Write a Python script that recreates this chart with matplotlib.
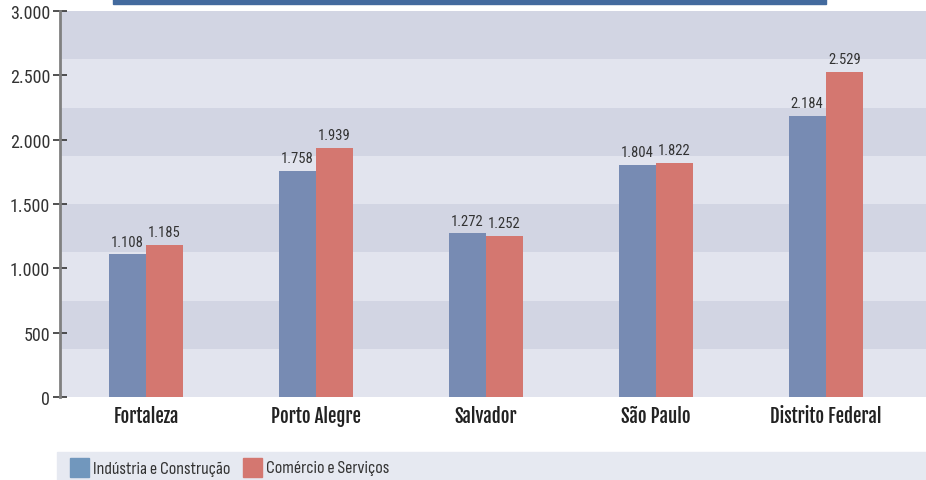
import matplotlib.pyplot as plt
from matplotlib.patches import Rectangle
import numpy as np

cidades = ['Fortaleza', 'Porto Alegre', 'Salvador', 'São Paulo', 'Distrito Federal']
industria = [1108, 1758, 1272, 1804, 2184]
comercio = [1185, 1939, 1252, 1822, 2529]
series_nomes = ['Indústria e Construção', 'Comércio e Serviços']
yticks = [0, 500, 1000, 1500, 2000, 2500, 3000]

plt.rcParams['font.family'] = ['Roboto Condensed', 'DejaVu Sans']
fonte_leg = ['Sofia Sans Condensed', 'Roboto Condensed', 'DejaVu Sans']
fonte_cat = ['Fjalla One', 'Roboto Condensed', 'DejaVu Sans']

azul = '#778bb3'
vermelho = '#d47770'

fig = plt.figure(figsize=(9.26, 4.81), dpi=100)
ax = fig.add_axes([60 / 926, 1 - 398 / 481, 866 / 926, 386 / 481])

# faixas alternadas no fundo
for i in range(8):
    cor = '#e2e4ee' if i % 2 == 0 else '#d2d5e3'
    ax.axhspan(i * 375, (i + 1) * 375, color=cor, zorder=0, lw=0)

x = np.arange(len(cidades))
w = 0.218
b1 = ax.bar(x - w / 2, industria, w, color=azul, zorder=2)
b2 = ax.bar(x + w / 2, comercio, w, color=vermelho, zorder=2)

def fmt(v):
    return f'{v:,}'.replace(',', '.')

for bars in (b1, b2):
    for r in bars:
        ax.text(r.get_x() + r.get_width() / 2, r.get_height() + 45, fmt(int(r.get_height())),
                ha='center', va='bottom', fontsize=10.5, color='#333333')

ax.set_xlim(-0.506, 4.59)
ax.set_ylim(0, 3000)
ax.set_yticks(yticks)
ax.set_yticklabels([fmt(v) for v in yticks], fontsize=13, color='#333333')
ax.set_xticks(x)
ax.set_xticklabels(cidades, fontsize=13.5, family=fonte_cat, color='#222222')
ax.tick_params(axis='x', length=0, pad=6)
ax.tick_params(axis='y', length=10, width=1.2, color='#333333', pad=2, direction='inout')
for s in ['top', 'right', 'bottom']:
    ax.spines[s].set_visible(False)
ax.spines['left'].set_color('#808080')
ax.spines['left'].set_linewidth(2)

# faixa azul do título (cortada)
fig.patches.append(Rectangle((113 / 926, 1 - 5 / 481), 713 / 926, 5 / 481,
                             transform=fig.transFigure, color='#436a9e', zorder=0))

# legenda
fig.patches.append(Rectangle((57 / 926, 0), 869 / 926, 28 / 481,
                             transform=fig.transFigure, color='#e6e9f1', zorder=0))
fig.patches.append(Rectangle((70 / 926, 3 / 481), 19 / 926, 19 / 481,
                             transform=fig.transFigure, color='#7197bd', zorder=1))
fig.text(93 / 926, 12 / 481, series_nomes[0], fontsize=13, va='center',
         family=fonte_leg, color='#333333')
fig.patches.append(Rectangle((243 / 926, 3 / 481), 19 / 926, 19 / 481,
                             transform=fig.transFigure, color=vermelho, zorder=1))
fig.text(266 / 926, 12 / 481, series_nomes[1], fontsize=13, va='center',
         family=fonte_leg, color='#333333')

fig.savefig('out.png', dpi=100)
